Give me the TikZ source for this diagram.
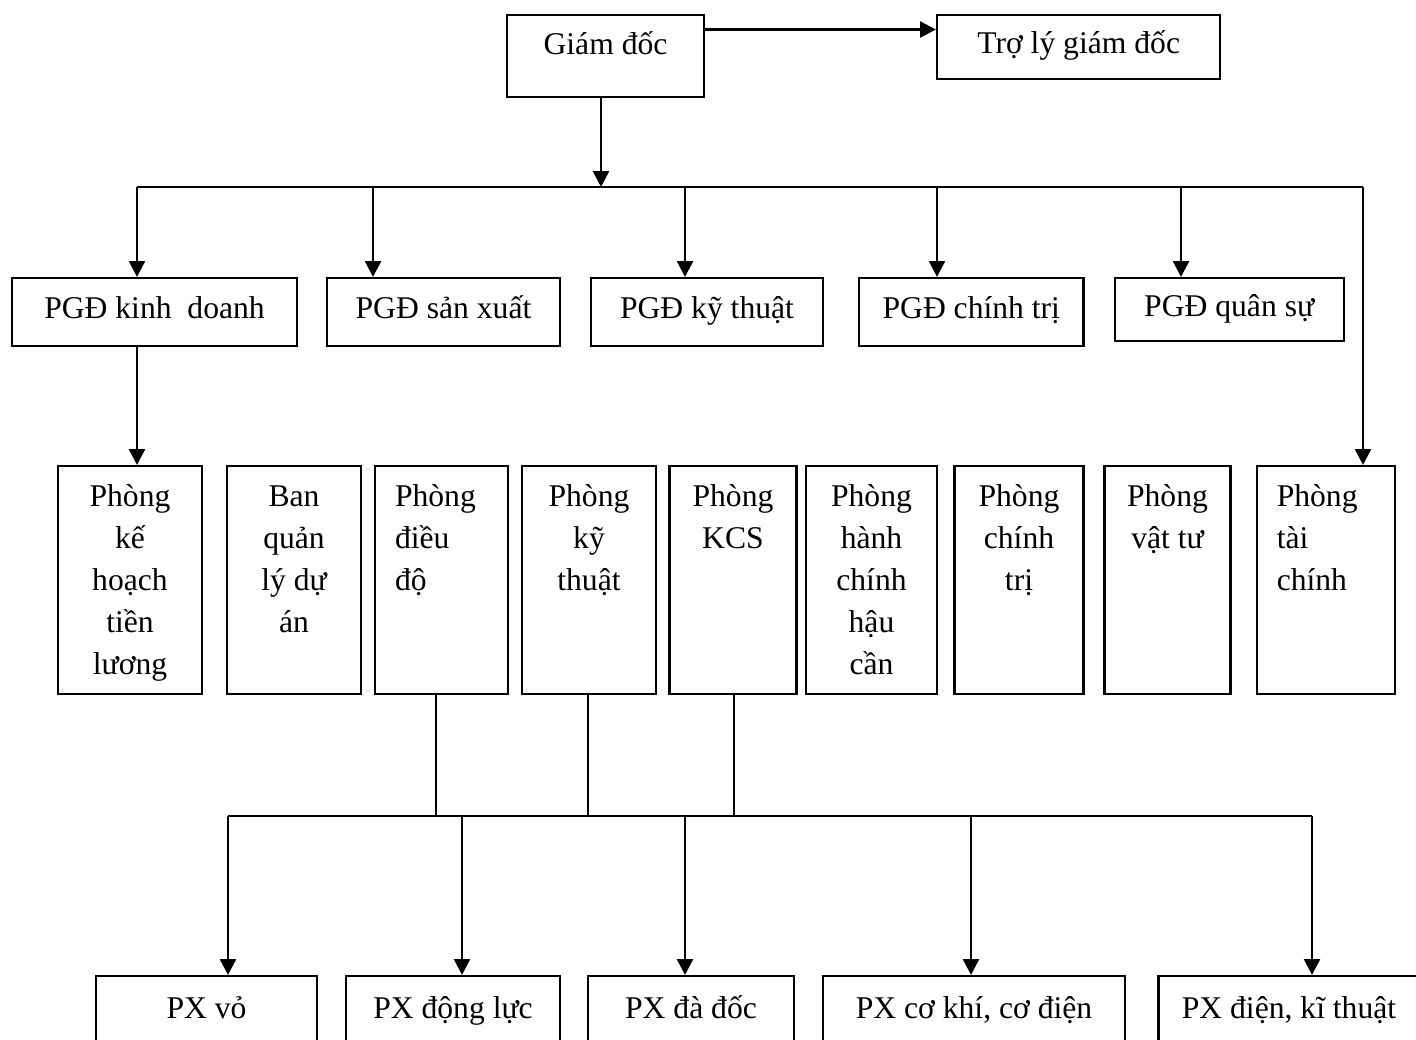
\documentclass[tikz,border=0pt]{standalone}
\usepackage{fontspec}
\setmainfont{Liberation Serif}
\usetikzlibrary{arrows.meta,positioning,calc}

% tall box text: width, alignment, lines
\newcommand{\colbox}[3]{\parbox[c][4.1cm][t]{#1}{#2\strut #3}}

\begin{document}
\begin{tikzpicture}[x=0.02cm, y=-0.02cm, >={Triangle[length=9pt,width=9pt]},
  box/.style={draw, line width=1.2pt, font=\fontsize{18}{23.8}\selectfont, inner sep=0pt,
              text height=0.45cm, text depth=0.17cm},
  dept/.style={draw, line width=1.2pt, font=\fontsize{18}{23.8}\selectfont, inner xsep=0.4cm, inner ysep=0.23cm},
  arr/.style={->, line width=1.5pt},
  bus/.style={line width=1.3pt},
  wire/.style={line width=1.1pt}]
  \useasboundingbox (0,0) rectangle (1416,1040);

  % top level
  \node[box, minimum width=3.94cm, minimum height=1.64cm, text depth=0.5cm] (gd) at (605.5,55.7) {Giám đốc};
  \node[box, minimum width=5.67cm, minimum height=1.28cm] (tl) at (1078.7,46.8) {Trợ lý giám đốc};

  % deputy directors
  \node[box, minimum width=5.7cm, minimum height=1.36cm] (kd) at (154.5,312) {PGĐ kinh~~doanh};
  \node[box, minimum width=4.66cm, minimum height=1.36cm] (sx) at (443.5,312) {PGĐ sản xuất};
  \node[box, minimum width=4.64cm, minimum height=1.36cm] (kt) at (707,312) {PGĐ kỹ thuật};
  \node[box, minimum width=4.49cm, minimum height=1.36cm] (ct) at (971.3,312) {PGĐ chính trị};
  \node[box, minimum width=4.58cm, minimum height=1.26cm] (qs) at (1229.2,309.5) {PGĐ quân sự};

  % departments
  \node[dept] (kh) at (130,580) {\colbox{2.08cm}{\centering}{Phòng\\kế\\hoạch\\tiền\\lương}};
  \node[dept] (bql) at (294,580) {\colbox{1.88cm}{\centering}{Ban\\quản\\lý dự\\án}};
  \node[dept] (dd) at (441.5,580) {\colbox{1.86cm}{\raggedright}{Phòng\\điều\\độ}};
  \node[dept] (kt2) at (589,580) {\colbox{1.88cm}{\centering}{Phòng\\kỹ\\thuật}};
  \node[dept] (kcs) at (733,580) {\colbox{1.74cm}{\centering}{Phòng\\KCS}};
  \node[dept] (hc) at (871.5,580) {\colbox{1.82cm}{\centering}{Phòng\\hành\\chính\\hậu\\cần}};
  \node[dept] (ct2) at (1019,580) {\colbox{1.78cm}{\centering}{Phòng\\chính\\trị}};
  \node[dept] (vt) at (1167.5,580) {\colbox{1.72cm}{\centering}{Phòng\\vật tư}};
  \node[dept] (tc) at (1326,580) {\colbox{1.97cm}{\raggedright}{Phòng\\tài\\chính}};

  % workshops
  \node[box, minimum width=4.42cm, minimum height=1.4cm] (vo) at (206.5,1011) {PX vỏ};
  \node[box, minimum width=4.28cm, minimum height=1.4cm] (dl) at (453,1011) {PX động lực};
  \node[box, minimum width=4.12cm, minimum height=1.4cm] (dd2) at (691,1011) {PX đà đốc};
  \node[box, minimum width=6.04cm, minimum height=1.4cm] (ck) at (974,1011) {PX cơ khí, cơ điện};
  \node[box, minimum width=5.22cm, minimum height=1.4cm] (dk) at (1289,1011) {PX điện, kĩ thuật};

  % upper connectors
  \coordinate (top) at (601,187);
  \coordinate (busL) at (137,187);
  \coordinate (busR) at (1363,187);
  \draw[arr] (gd.east |- 0,29.5) -- (tl.west |- 0,29.5);
  \draw[arr] (gd.south -| top) -- (top);
  \draw[bus] (busL) -- (busR);
  \draw[arr] (busR) -- (busR |- tc.north);
  \foreach \x/\n in {137/kd, 373/sx, 685/kt, 937/ct, 1181/qs}
    \draw[arr] (\x,187) -- (\x,187 |- \n.north);
  \draw[arr] (busL |- kd.south) -- (busL |- kh.north);

  % lower connectors
  \coordinate (busB) at (228,816);
  \foreach \x/\n in {436/dd, 588/kt2, 734/kcs}
    \draw[wire] (\x,816 |- \n.south) -- (\x,816);
  \draw[bus] (busB) -- (1312,816);
  \foreach \x/\n in {228/vo, 462/dl, 685/dd2, 971/ck, 1312/dk}
    \draw[arr] (\x,816) -- (\x,816 |- \n.north);
\end{tikzpicture}
\end{document}
